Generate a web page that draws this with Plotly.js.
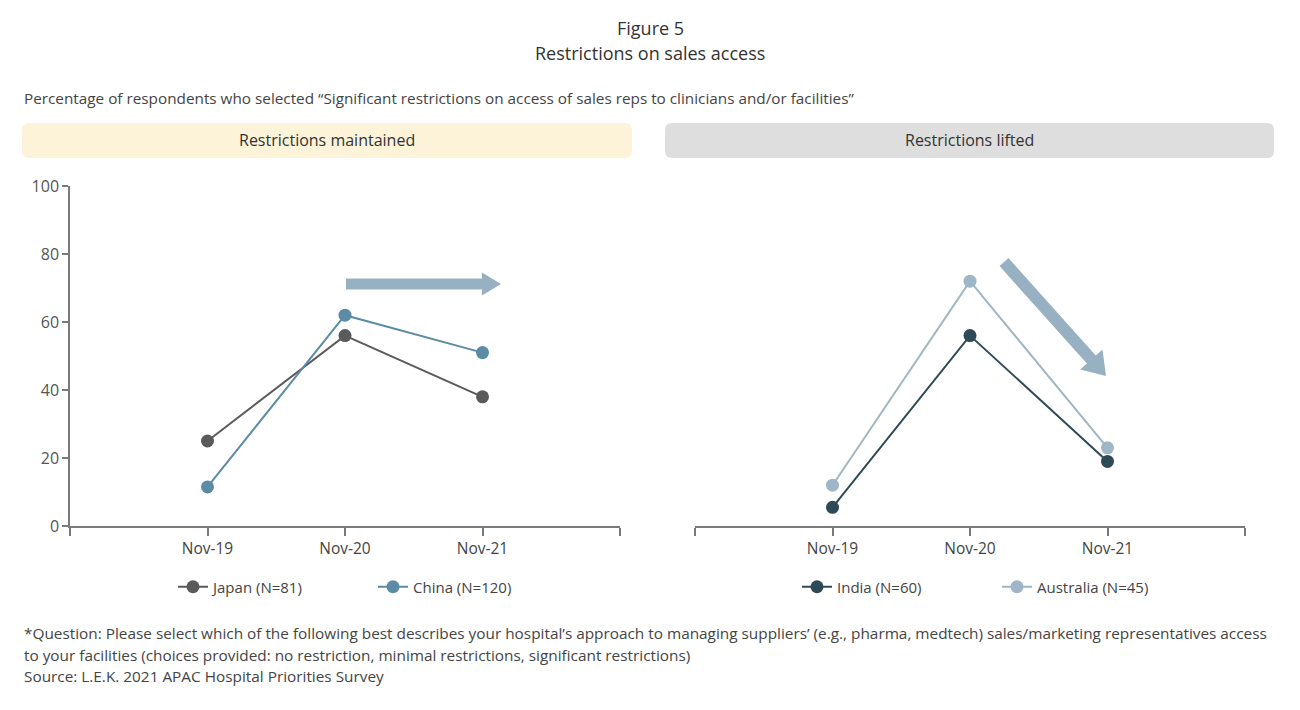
<!DOCTYPE html>
<html>
<head>
<meta charset="utf-8">
<script src="https://cdn.plot.ly/plotly-3.0.1.min.js"></script>
<style>
  html, body { margin: 0; padding: 0; background: #ffffff; }
  #chart { width: 1300px; height: 710px; }
</style>
</head>
<body>
<div id="chart"></div>
<script>
// ---- data ----
const periods = ['Nov-19', 'Nov-20', 'Nov-21'];
const japan = [25, 56, 38];
const china = [11.5, 62, 51];
const india = [5.5, 56, 19];
const australia = [12, 72, 23];
const yTicks = [0, 20, 40, 60, 80, 100];
const legendNames = ['Japan (N=81)', 'China (N=120)', 'India (N=60)', 'Australia (N=45)'];
const panelTitles = ['Restrictions maintained', 'Restrictions lifted'];
const titleLines = ['Figure 5', 'Restrictions on sales access'];

// ---- helpers (pixel -> paper, since margins are 0) ----
const W = 1300, H = 710;
const px = x => x / W;
const py = y => 1 - y / H;
const FONT = '"Open Sans", "Noto Sans", sans-serif';

const xIdx = periods.map((_, i) => i);
const tickVals = [-1].concat(xIdx, [periods.length]);
const tickText = [''].concat(periods, ['']);

function roundRect(x0, y0, x1, y1, r) {
  const p = (x, y) => px(x).toFixed(5) + ',' + py(y).toFixed(5);
  return 'M' + p(x0 + r, y0) + ' L' + p(x1 - r, y0) +
    ' Q' + p(x1, y0) + ' ' + p(x1, y0 + r) +
    ' L' + p(x1, y1 - r) + ' Q' + p(x1, y1) + ' ' + p(x1 - r, y1) +
    ' L' + p(x0 + r, y1) + ' Q' + p(x0, y1) + ' ' + p(x0, y1 - r) +
    ' L' + p(x0, y0 + r) + ' Q' + p(x0, y0) + ' ' + p(x0 + r, y0) + ' Z';
}

function arrowPath(x0, y0, x1, y1, sw, hw, hl) {
  const dx = x1 - x0, dy = y1 - y0, L = Math.hypot(dx, dy);
  const ux = dx / L, uy = dy / L, nx = -uy, ny = ux;
  const bx = x1 - ux * hl, by = y1 - uy * hl;
  const pts = [
    [x0 + nx * sw / 2, y0 + ny * sw / 2],
    [bx + nx * sw / 2, by + ny * sw / 2],
    [bx + nx * hw / 2, by + ny * hw / 2],
    [x1, y1],
    [bx - nx * hw / 2, by - ny * hw / 2],
    [bx - nx * sw / 2, by - ny * sw / 2],
    [x0 - nx * sw / 2, y0 - ny * sw / 2]
  ];
  return 'M' + pts.map(q => px(q[0]).toFixed(5) + ',' + py(q[1]).toFixed(5)).join(' L') + ' Z';
}

function series(name, vals, color, xaxis, legend) {
  return {
    type: 'scatter', mode: 'lines+markers', name: name,
    x: xIdx, y: vals, xaxis: xaxis, yaxis: 'y', legend: legend,
    line: { color: color, width: 2 },
    marker: { color: color, size: 13 },
    hoverinfo: 'name+y'
  };
}

const data = [
  series(legendNames[0], japan, '#5a5a5a', 'x', 'legend'),
  series(legendNames[1], china, '#5b8ba5', 'x', 'legend'),
  series(legendNames[2], india, '#2e4a57', 'x2', 'legend2'),
  series(legendNames[3], australia, '#9fb6c6', 'x2', 'legend2')
];

const xCommon = {
  range: [-1, periods.length],
  tickmode: 'array', tickvals: tickVals, ticktext: tickText,
  ticks: 'outside', ticklen: 8, tickwidth: 1.5, tickcolor: '#7a7a7a',
  showline: true, linecolor: '#7a7a7a', linewidth: 1.5,
  showgrid: false, zeroline: false, fixedrange: true,
  tickfont: { family: FONT, size: 15.5, color: '#444' },
  anchor: 'y'
};

const ann = (x, y, text, size, color, xanchor) => ({
  xref: 'paper', yref: 'paper', x: px(x), y: py(y),
  xanchor: xanchor || 'left', yanchor: 'middle', showarrow: false,
  text: text, font: { family: FONT, size: size, color: color }
});

const layout = {
  width: W, height: H,
  margin: { l: 0, r: 0, t: 0, b: 0 },
  paper_bgcolor: '#ffffff', plot_bgcolor: '#ffffff',
  font: { family: FONT, color: '#444' },
  xaxis: Object.assign({}, xCommon, { domain: [px(70), px(620)] }),
  xaxis2: Object.assign({}, xCommon, { domain: [px(695), px(1245)] }),
  yaxis: {
    domain: [py(526), py(186)], range: [0, 100],
    tickmode: 'array', tickvals: yTicks,
    ticks: 'outside', ticklen: 6, tickwidth: 1.5, tickcolor: '#7a7a7a',
    showline: true, linecolor: '#7a7a7a', linewidth: 1.5,
    showgrid: false, zeroline: false, fixedrange: true,
    tickfont: { family: FONT, size: 16, color: '#555' },
    anchor: 'x'
  },
  showlegend: true,
  legend: {
    orientation: 'h', x: px(173), xanchor: 'left', y: py(587), yanchor: 'middle',
    font: { family: FONT, size: 15, color: '#444' },
    entrywidth: 155, entrywidthmode: 'pixels', bgcolor: 'rgba(0,0,0,0)'
  },
  legend2: {
    orientation: 'h', x: px(797), xanchor: 'left', y: py(587), yanchor: 'middle',
    font: { family: FONT, size: 15, color: '#444' },
    entrywidth: 155, entrywidthmode: 'pixels', bgcolor: 'rgba(0,0,0,0)'
  },
  shapes: [
    { type: 'path', xref: 'paper', yref: 'paper', path: roundRect(22, 123, 632, 158, 7),
      fillcolor: '#fcf3d9', line: { width: 0 }, layer: 'below' },
    { type: 'path', xref: 'paper', yref: 'paper', path: roundRect(665, 123, 1274, 158, 7),
      fillcolor: '#dedede', line: { width: 0 }, layer: 'below' },
    { type: 'path', xref: 'paper', yref: 'paper', path: arrowPath(346, 284, 501, 284, 11, 23, 19),
      fillcolor: '#97b1c3', line: { width: 0 } },
    { type: 'path', xref: 'paper', yref: 'paper', path: arrowPath(1004, 262, 1106, 376, 12, 30, 22),
      fillcolor: '#97b1c3', line: { width: 0 } }
  ],
  annotations: [
    ann(650, 28, titleLines[0], 18, '#333', 'center'),
    ann(650, 53, titleLines[1], 18, '#333', 'center'),
    ann(22, 98, 'Percentage of respondents who selected \u201cSignificant restrictions on access of sales reps to clinicians and/or facilities\u201d', 15.3, '#444'),
    ann(327, 140, panelTitles[0], 16, '#333', 'center'),
    ann(969, 140, panelTitles[1], 16, '#333', 'center'),
    ann(22, 633, '*Question: Please select which of the following best describes your hospital\u2019s approach to managing suppliers\u2019 (e.g., pharma, medtech) sales/marketing representatives access', 15.35, '#444'),
    ann(22, 655, 'to your facilities (choices provided: no restriction, minimal restrictions, significant restrictions)', 15.35, '#444'),
    ann(22, 676, 'Source: L.E.K. 2021 APAC Hospital Priorities Survey', 15.35, '#444')
  ]
};

Plotly.newPlot('chart', data, layout, { displayModeBar: false });
</script>
</body>
</html>
